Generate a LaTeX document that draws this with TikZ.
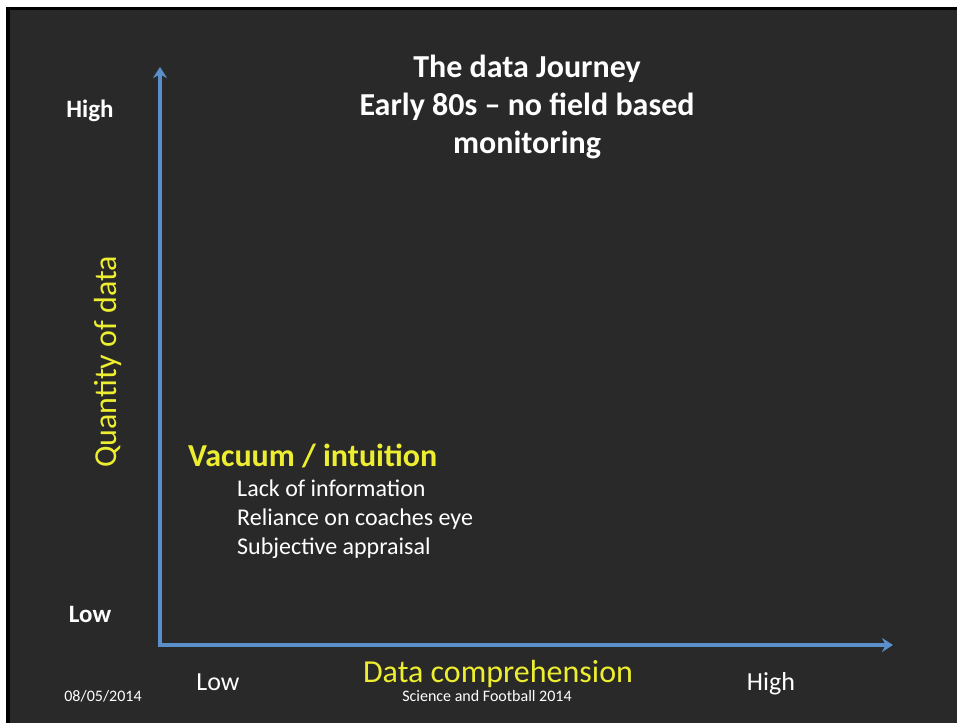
\documentclass[tikz,border=0pt]{standalone}
\usepackage{fontspec}
\setmainfont{Carlito}
\usepackage{tikz}
\usetikzlibrary{arrows.meta, positioning}
\definecolor{slidebg}{HTML}{292929}
\definecolor{axisblue}{HTML}{5B8FC9}
\definecolor{labelyellow}{HTML}{EEEE30}

\begin{document}
\begin{tikzpicture}[x=1pt, y=-1pt,
  axis/.style={draw=axisblue, line width=3.2pt,
               {Stealth[length=11pt, width=14pt]}-{Stealth[length=11pt, width=14pt]}},
  title/.style={text=white, font=\fontsize{32}{38}\selectfont\bfseries,
                align=center, inner sep=0pt, anchor=north},
  level/.style={text=white, font=\fontsize{25}{30}\selectfont\bfseries,
                inner sep=0pt, anchor=base},
  xlevel/.style={text=white, font=\fontsize{26}{30}\selectfont,
                 inner sep=0pt, anchor=base},
  axislabel/.style={text=labelyellow, font=\fontsize{32}{38}\selectfont,
                    inner sep=0pt, anchor=base},
  phase/.style={text=labelyellow, font=\fontsize{32}{38}\selectfont\bfseries,
                inner sep=0pt, anchor=base west},
  point/.style={text=white, font=\fontsize{24}{29}\selectfont,
                inner sep=0pt, anchor=base west},
  footer/.style={text=white, font=\fontsize{16}{19}\selectfont,
                 inner sep=0pt, anchor=base},
]
  \useasboundingbox (0,0) rectangle (957,723);

  % Slide frame and background
  \fill[white] (0,0) rectangle (957,723);
  \fill[black] (6,7) rectangle (957,723);
  \fill[slidebg] (10,10) rectangle (957,723);

  % Title
  \node[title] (title) at (527,55) {The data Journey\\Early 80s – no field based\\monitoring};

  % Axes
  \coordinate (origin) at (160,645);
  \coordinate (ytip) at (160,67);
  \coordinate (xtip) at (893,645);
  \draw[axis] (ytip) -- (origin) -- (xtip);

  % Axis levels
  \node[level] (yhigh) at (90,117) {High};
  \node[level] (ylow) at (90,622) {Low};
  \node[xlevel] (xlow) at (218,690) {Low};
  \node[xlevel] (xhigh) at (771,690) {High};

  % Axis names
  \node[axislabel, rotate=90] (yname) at (116,362) {Quantity of data};
  \node[axislabel] (xname) at (498,682) {Data comprehension};

  % Phase text
  \node[phase] (vacuum) at (188,466) {Vacuum / intuition};
  \node[point] (lack) at (237,496) {Lack of information};
  \node[point] (eye) at (237,525) {Reliance on coaches eye};
  \node[point] (subjective) at (237,554) {Subjective appraisal};

  % Footer
  \node[footer] (date) at (103,701) {08/05/2014};
  \node[footer] (event) at (487,701) {Science and Football 2014};
\end{tikzpicture}
\end{document}
